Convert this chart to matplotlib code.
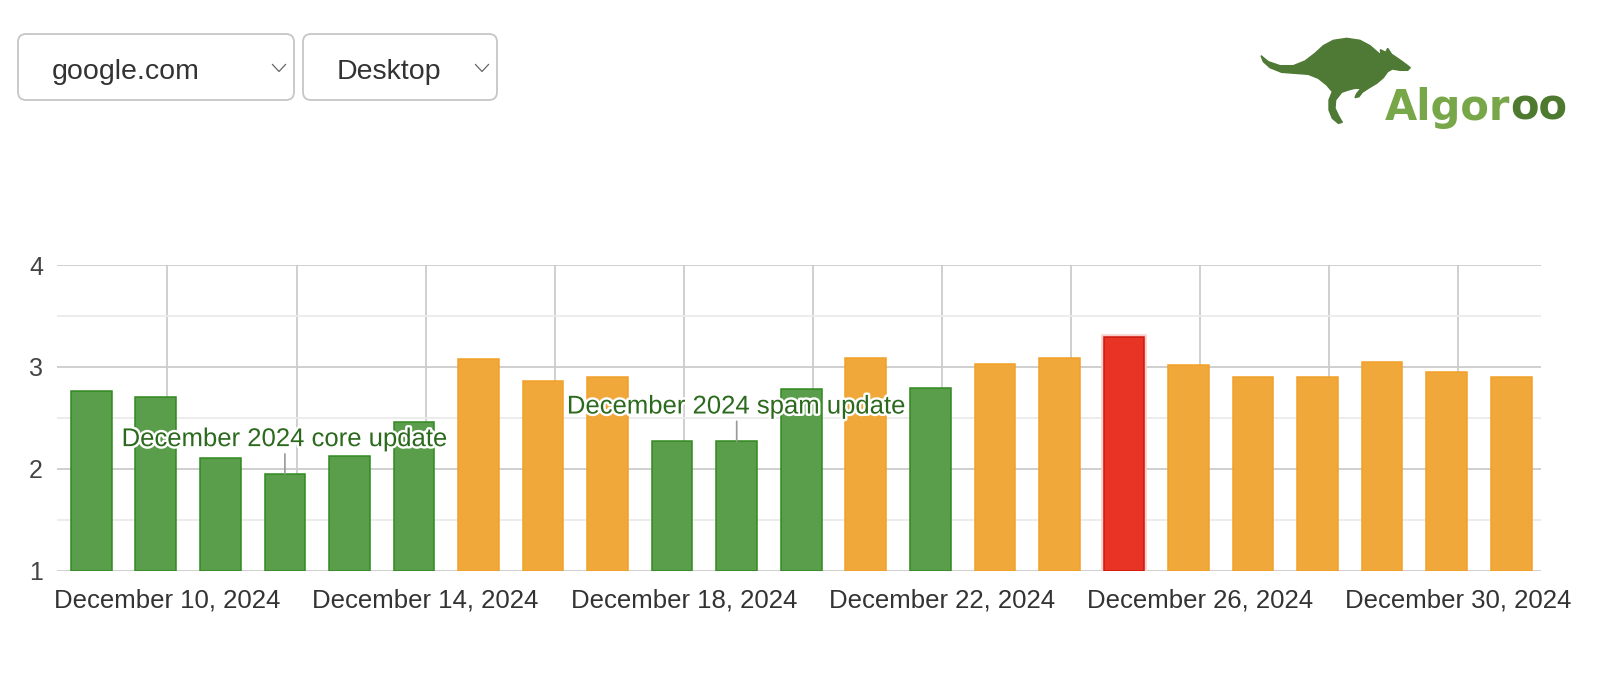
import matplotlib
matplotlib.use("Agg")
import matplotlib.pyplot as plt
import matplotlib.dates as mdates
import matplotlib.patheffects as pe
from matplotlib.patches import FancyBboxPatch, Polygon
import numpy as np
import datetime as dt

# ---------------- data ----------------
dates = ["2024-12-08", "2024-12-09", "2024-12-10", "2024-12-11", "2024-12-12",
         "2024-12-13", "2024-12-14", "2024-12-15", "2024-12-16", "2024-12-17",
         "2024-12-18", "2024-12-19", "2024-12-20", "2024-12-21", "2024-12-22",
         "2024-12-23", "2024-12-24", "2024-12-25", "2024-12-26", "2024-12-27",
         "2024-12-28", "2024-12-29", "2024-12-30"]
values = [2.76, 2.70, 2.11, 1.95, 2.13, 2.46, 3.08, 2.86, 2.90, 2.27, 2.27, 2.78,
          3.09, 2.79, 3.03, 3.09, 3.29, 3.02, 2.90, 2.90, 3.05, 2.95, 2.90]
levels = ["low", "low", "low", "low", "low", "low", "mid", "mid", "mid", "low",
          "low", "low", "mid", "low", "mid", "mid", "high", "mid", "mid", "mid",
          "mid", "mid", "mid"]
annotations = {"2024-12-11": "December 2024 core update",
               "2024-12-18": "December 2024 spam update"}
tick_dates = ["2024-12-10", "2024-12-14", "2024-12-18", "2024-12-22",
              "2024-12-26", "2024-12-30"]
yticks = [1, 2, 3, 4]
dropdowns = ["google.com", "Desktop"]

# ---------------- style ----------------
face = {"low": "#5a9e4b", "mid": "#f0a83a", "high": "#e83424"}
edge = {"low": "#2f8a1f", "mid": "#f2a12a", "high": "#d0180c"}

W, H = 1600, 673
fig = plt.figure(figsize=(W / 100, H / 100), dpi=100)
plt.rcParams["font.family"] = ["Liberation Sans", "DejaVu Sans"]

# overlay for header elements in pixel coordinates
ov = fig.add_axes([0, 0, 1, 1])
ov.set_xlim(0, W)
ov.set_ylim(H, 0)
ov.axis("off")

# main axes
left, right, top, bottom = 57, 1541, 265, 570.7
ax = fig.add_axes([left / W, (H - bottom) / H, (right - left) / W, (bottom - top) / H])

shift = 0.82
x = np.array([mdates.date2num(dt.datetime.strptime(d, "%Y-%m-%d")) for d in dates]) + shift
bw = 0.63
for xi, v, lv in zip(x, values, levels):
    b = ax.bar(xi, v - 1, bottom=1, width=bw, color=face[lv], edgecolor=edge[lv],
               linewidth=1.1, zorder=3)
    if lv == "high":
        b[0].set_path_effects([pe.Stroke(linewidth=4, foreground="#f9cdc9"), pe.Normal()])

ax.set_xlim(x[0] - 0.531, x[-1] + 0.462)
ax.set_ylim(1, 4)

# grid
ax.set_yticks(yticks)
ax.set_yticks([1.5, 2.5, 3.5], minor=True)
tnums = [mdates.date2num(dt.datetime.strptime(d, "%Y-%m-%d")) for d in tick_dates]
ax.set_xticks(tnums)
ax.set_xticklabels([dt.datetime.strptime(d, "%Y-%m-%d").strftime("%B %-d, %Y") for d in tick_dates])
ax.xaxis.set_minor_locator(mdates.DayLocator(bymonthday=range(10, 31, 2)))
ax.grid(axis="y", which="major", color="#cccccc", linewidth=1.3, zorder=0)
ax.grid(axis="y", which="minor", color="#ebebeb", linewidth=1.3, zorder=0)
ax.grid(axis="x", which="both", color="#cccccc", linewidth=1.3, zorder=0)
ax.set_axisbelow(True)
for s in ax.spines.values():
    s.set_visible(False)
ax.tick_params(axis="both", which="both", length=0)
ax.tick_params(axis="x", pad=13, labelsize=18.5, labelcolor="#333333")
ax.tick_params(axis="y", pad=10, labelsize=18, labelcolor="#444444")
ax.set_facecolor("none")

# annotations
for d, label in annotations.items():
    i = dates.index(d)
    ax.annotate(label, xy=(x[i], values[i]), xytext=(0, 20), textcoords="offset points",
                ha="center", va="baseline", fontsize=18.5, color="#2b6a1d", zorder=6,
                path_effects=[pe.withStroke(linewidth=3.5, foreground="white")],
                arrowprops=dict(arrowstyle="-", color="#999999", lw=1.2,
                                shrinkA=0, shrinkB=0))

# dropdowns
boxes = [(18, 34, 276, 66), (303, 34, 194, 66)]
for (bx, by, bwid, bh), label in zip(boxes, dropdowns):
    p = FancyBboxPatch((bx, by), bwid, bh, boxstyle="round,pad=0,rounding_size=8",
                       facecolor="white", edgecolor="#c6c6c6", linewidth=1.3)
    ov.add_patch(p)
    ov.text(bx + 34, 79, label, fontsize=20.5, color="#333333", ha="left", va="baseline")
    cx = bx + bwid - 15
    ov.plot([cx - 6.5, cx, cx + 6.5], [64.5, 71.5, 64.5], color="#666666", lw=0.9)

# logo: kangaroo silhouette + text
roo = [(18,62),(40,80),(75,92),(115,92),(150,78),(180,55),(205,32),(235,16),(275,10),
       (315,16),(345,32),(368,52),(378,60),(376,44),(392,52),(398,40),(410,58),
       (425,68),(445,82),(466,98),(458,106),(435,106),(412,102),(398,110),(385,128),
       (365,145),(340,160),(322,172),(312,185),(300,188),(305,176),(318,160),(300,160),
       (280,165),(260,172),(242,195),(240,220),(252,245),(262,262),(250,265),(232,250),
       (222,225),(222,195),(232,170),(215,150),(190,130),(160,118),(120,115),(80,112),
       (45,98),(25,80)]
pts = [(1255 + a / 3, 35 + b / 3) for a, b in roo]
ov.add_patch(Polygon(pts, closed=True, facecolor="#4f7a35", edgecolor="#4f7a35", lw=1))
t1 = ov.text(1385, 120, "Algor", fontsize=30, fontweight="bold", color="#77a748",
             family="DejaVu Sans", ha="left", va="baseline")
fig.canvas.draw()
bb = t1.get_window_extent()
ov.text(bb.x1, 120, "oo", fontsize=30, fontweight="bold", color="#4e7a30",
        family="DejaVu Sans", ha="left", va="baseline")

fig.savefig("out.png", dpi=100, facecolor="white")
